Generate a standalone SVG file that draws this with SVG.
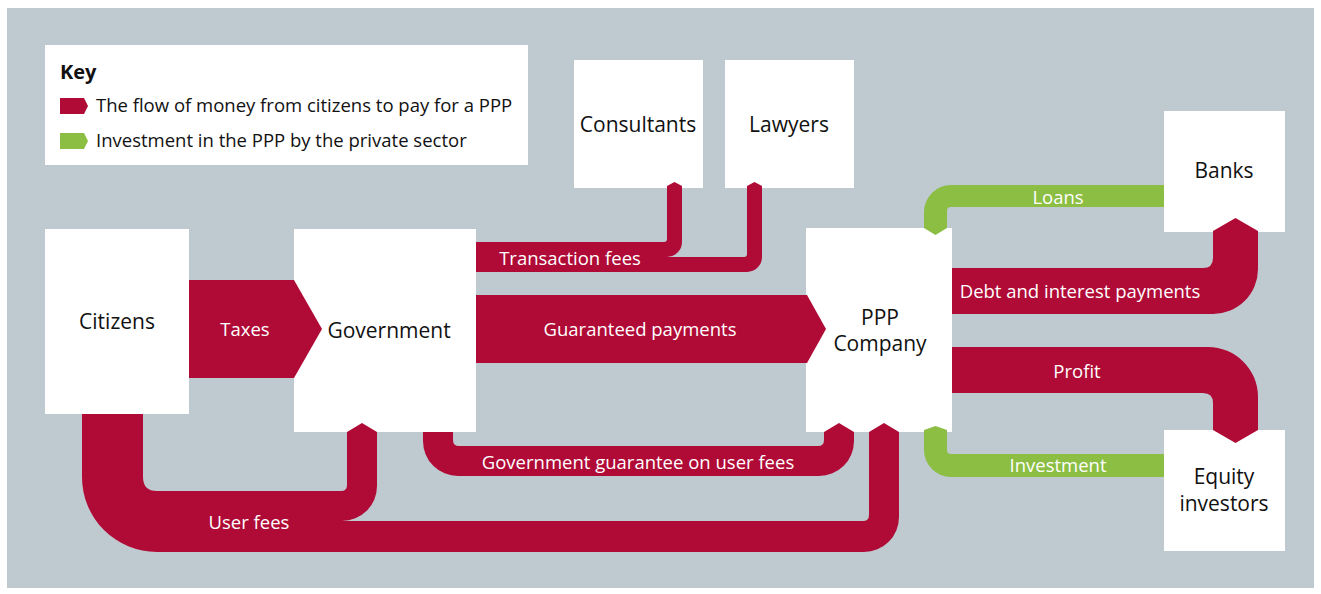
<svg xmlns="http://www.w3.org/2000/svg" width="1321" height="594" viewBox="0 0 1321 594">
<style>
.bg{fill:#bfcad0}
.box{fill:#ffffff}
.red{fill:#b00a36}
.green{fill:#8bbe43}
.nt{font-family:"Open Sans","Noto Sans",sans-serif;font-size:21px;fill:#111111;text-anchor:middle}
.lt{font-family:"Open Sans","Noto Sans",sans-serif;font-size:18.5px;fill:#ffffff;text-anchor:middle}
.kt{font-family:"Open Sans","Noto Sans",sans-serif;font-size:18.5px;fill:#111111}
.kh{font-family:"Open Sans","Noto Sans",sans-serif;font-size:20px;font-weight:bold;fill:#111111}
</style>
<rect class="bg" x="7" y="8" width="1307" height="580"/>
<g id="key">
<rect class="box" x="45" y="45" width="483" height="120"/>
<text class="kh" x="60" y="79">Key</text>
<path class="red" d="M60,98 H84 L88,106 L84,114 H60 Z"/>
<text class="kt" x="96" y="112">The flow of money from citizens to pay for a PPP</text>
<path class="green" d="M60,133 H84 L88,141 L84,149 H60 Z"/>
<text class="kt" x="96" y="147">Investment in the PPP by the private sector</text>
</g>
<g id="consultants">
<rect class="box" x="574" y="60" width="129" height="128"/>
<text class="nt" x="638" y="132">Consultants</text>
</g>
<g id="lawyers">
<rect class="box" x="725" y="60" width="129" height="128"/>
<text class="nt" x="789" y="132">Lawyers</text>
</g>
<g id="banks">
<rect class="box" x="1164" y="111" width="121" height="121"/>
<text class="nt" x="1224" y="178">Banks</text>
</g>
<g id="citizens">
<rect class="box" x="45" y="229" width="144" height="185"/>
<text class="nt" x="117" y="329">Citizens</text>
</g>
<g id="government">
<rect class="box" x="294" y="229" width="182" height="203"/>
<text class="nt" x="389" y="338">Government</text>
</g>
<g id="ppp-company">
<rect class="box" x="806" y="228" width="146" height="204"/>
<text class="nt" x="880" y="325">PPP</text>
<text class="nt" x="880" y="351">Company</text>
</g>
<g id="equity-investors">
<rect class="box" x="1164" y="430" width="121" height="121"/>
<text class="nt" x="1224" y="484">Equity</text>
<text class="nt" x="1224" y="511">investors</text>
</g>
<g id="connectors">
<path class="red" d="M189,280 H294 L322,329 L294,378 H189 Z"/>
<text class="lt" x="245" y="336">Taxes</text>
<path class="red" d="M476,295 H807 L826,329 L807,363 H476 Z"/>
<text class="lt" x="640" y="336">Guaranteed payments</text>
<path class="red" d="M476,242 H664 Q667,242 667,239 V186 L674.5,182 L682,186 V242 A15,15 0 0 1 667,257 H476 Z"/>
<path class="red" d="M476,257 H744 Q747,257 747,254 V186 L754.5,182 L762,186 V257 A15,15 0 0 1 747,272 H476 Z"/>
<text class="lt" x="570" y="265">Transaction fees</text>
<path class="green" d="M1164,185 H951 A27,27 0 0 0 924,212 V228 L935.5,235 L947,228 V211 Q947,207 951,207 H1164 Z"/>
<text class="lt" x="1058" y="204">Loans</text>
<path class="red" d="M952,268 H1203 Q1213,268 1213,258 V231 L1235.5,218 L1258,231 V269 A45,45 0 0 1 1213,314 H952 Z"/>
<text class="lt" x="1080" y="298">Debt and interest payments</text>
<path class="red" d="M952,347 H1208 A50,50 0 0 1 1258,397 V430 L1235.5,443 L1213,430 V403 Q1213,393 1203,393 H952 Z"/>
<text class="lt" x="1077" y="378">Profit</text>
<path class="green" d="M1164,454 H951 Q947,454 947,450 V430 L935.5,426 L924,430 V450 A27,27 0 0 0 951,477 H1164 Z"/>
<text class="lt" x="1058" y="472">Investment</text>
<path class="red" d="M423,432 H453 V440 Q453,446 459,446 H818 Q824,446 824,440 V432 L839,423 L854,432 V441 A35,35 0 0 1 819,476 H458 A35,35 0 0 1 423,441 Z"/>
<text class="lt" x="638" y="469">Government guarantee on user fees</text>
<path class="red" d="M82,414 H143 V477 Q143,491 157,491 H341 Q347,491 347,485 V432 L362,423 L377,432 V486 A35,35 0 0 1 342,521 H863 Q869,521 869,515 V432 L884,423 L899,432 V517 A35,35 0 0 1 864,552 H157 A75,75 0 0 1 82,477 Z"/>
<text class="lt" x="249" y="529">User fees</text>
</g>
</svg>
